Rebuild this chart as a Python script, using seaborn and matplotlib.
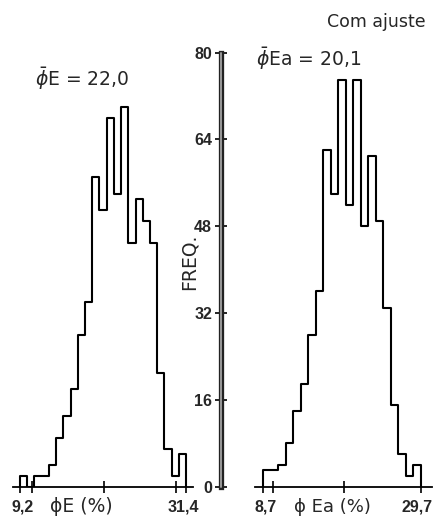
import numpy as np
import pandas as pd
import matplotlib
matplotlib.use("Agg")
import matplotlib.pyplot as plt
import matplotlib.transforms as mtransforms
import seaborn as sns

# ---------------- data ----------------
# Left histogram: porosity phi E (%)
phiE_range = (9.2, 31.4)
phiE_counts = [2, 0, 2, 2, 4, 9, 13, 18, 28, 34, 57, 51, 68, 54, 70,
               45, 53, 49, 45, 21, 7, 2, 6]
phiE_ticks = [9.2, 10.84, 20.47, 30.02, 31.4]
phiE_ticklabels = ["9,2", "", "", "", "31,4"]
phiE_mean_label = r"$\bar{\phi}$E = 22,0"
phiE_axis_label = "ϕE (%)"

# Right histogram: porosity phi Ea (%) with adjustment
phiEa_range = (8.7, 29.7)
phiEa_counts = [3, 3, 4, 8, 14, 19, 28, 36, 62, 54, 75, 52, 75, 48, 61,
                49, 33, 15, 6, 2, 4]
phiEa_ticks = [8.7, 10.03, 19.5, 29.7]
phiEa_ticklabels = ["8,7", "", "", "29,7"]
phiEa_mean_label = r"$\bar{\phi}$Ea = 20,1"
phiEa_axis_label = "ϕ Ea (%)"

freq_ticks = [0, 16, 32, 48, 64, 80]
freq_label = "FREQ."
corner_label = "Com ajuste"


def hist_frame(counts, rng):
    n = len(counts)
    w = (rng[1] - rng[0]) / n
    centers = [rng[0] + (i + 0.5) * w for i in range(n)]
    return pd.DataFrame({"x": centers, "w": counts}), n


def close_outline(ax):
    # drop the step outline to the baseline at both ends
    line = ax.lines[-1]
    x, y = line.get_data()
    x = np.r_[x[0], x, x[-1]]
    y = np.r_[0, y, 0]
    line.set_data(x, y)


# ---------------- figure ----------------
sns.set_theme(style="white")
plt.rcParams["font.family"] = ["DejaVu Sans"]
plt.rcParams["mathtext.fontset"] = "dejavusans"

W, H = 433, 518
fig = plt.figure(figsize=(W / 100, H / 100), dpi=100)
fig.patch.set_facecolor("white")


def fx(px):
    return px / W


def fy(py):
    return 1 - py / H


num_font = dict(family=["Liberation Sans", "DejaVu Sans"],
                weight="bold", size=11.5)

y0_px, y80_px = 486.7, 52.7

# Left axes
axL = fig.add_axes([fx(13), fy(y0_px), fx(193) - fx(13), (y0_px - y80_px) / H])
dfL, nL = hist_frame(phiE_counts, phiE_range)
sns.histplot(data=dfL, x="x", weights="w", bins=nL, binrange=phiE_range,
             element="step", fill=False, color="black", linewidth=1.5, ax=axL)
close_outline(axL)
axL.set_xlim(8.264, 32.33)
axL.set_ylim(0, 80)
for s in ["left", "right", "top"]:
    axL.spines[s].set_visible(False)
axL.spines["bottom"].set_color("black")
axL.spines["bottom"].set_linewidth(1.3)
axL.set_yticks([])
axL.set_xticks(phiE_ticks)
axL.set_xticklabels(phiE_ticklabels, fontdict=num_font)
axL.tick_params(axis="x", direction="inout", length=9, width=1.2,
                color="black", pad=5, bottom=True)
axL.set_xlabel("")
axL.set_ylabel("")
axL.set_facecolor("none")
lblL = axL.get_xticklabels()
lblL[0].set_transform(lblL[0].get_transform()
                      + mtransforms.ScaledTranslation(3 / 100, 0, fig.dpi_scale_trans))
lblL[-1].set_transform(lblL[-1].get_transform()
                       + mtransforms.ScaledTranslation(-3 / 100, 0, fig.dpi_scale_trans))

# Right axes
axR = fig.add_axes([fx(221), fy(y0_px), fx(431.7) - fx(221), (y0_px - y80_px) / H])
dfR, nR = hist_frame(phiEa_counts, phiEa_range)
sns.histplot(data=dfR, x="x", weights="w", bins=nR, binrange=phiEa_range,
             element="step", fill=False, color="black", linewidth=1.5, ax=axR)
close_outline(axR)
axR.set_xlim(3.06, 31.15)
axR.set_ylim(0, 80)
axR.spines["right"].set_visible(False)
axR.spines["top"].set_visible(False)
axR.spines["bottom"].set_bounds(7.593, 31.15)
axR.spines["bottom"].set_color("black")
axR.spines["bottom"].set_linewidth(1.3)
axR.spines["left"].set_color("#222222")
axR.spines["left"].set_linewidth(3.8)
axR.plot([0, 0], [0, 80], transform=axR.get_yaxis_transform(),
         color="#9a9a9a", lw=1.4, clip_on=False, zorder=3)
axR.set_yticks(freq_ticks)
axR.set_yticklabels([str(t) for t in freq_ticks], fontdict=num_font)
axR.tick_params(axis="y", direction="inout", length=9, width=1.2,
                color="black", pad=2, left=True)
axR.set_xticks(phiEa_ticks)
axR.set_xticklabels(phiEa_ticklabels, fontdict=num_font)
axR.tick_params(axis="x", direction="inout", length=9, width=1.2,
                color="black", pad=5, bottom=True)
axR.set_xlabel("")
axR.set_ylabel("")
axR.set_facecolor("none")
lblR = axR.get_xticklabels()
lblR[0].set_transform(lblR[0].get_transform()
                      + mtransforms.ScaledTranslation(2 / 100, 0, fig.dpi_scale_trans))
lblR[-1].set_transform(lblR[-1].get_transform()
                       + mtransforms.ScaledTranslation(-4 / 100, 0, fig.dpi_scale_trans))

# Texts
fig.text(fx(81), fy(507), phiE_axis_label, ha="center", va="center", fontsize=13.5)
fig.text(fx(332), fy(507), phiEa_axis_label, ha="center", va="center", fontsize=13)
fig.text(fx(35), fy(86), phiE_mean_label, ha="left", va="baseline", fontsize=13.5)
fig.text(fx(256), fy(65.5), phiEa_mean_label, ha="left", va="baseline", fontsize=13.5)
fig.text(fx(426), fy(27), corner_label, ha="right", va="baseline", fontsize=12.5)
fig.text(fx(189), fy(262), freq_label, ha="center", va="center", rotation=90,
         fontsize=13.5)

fig.savefig("out.png", dpi=100, facecolor="white")
